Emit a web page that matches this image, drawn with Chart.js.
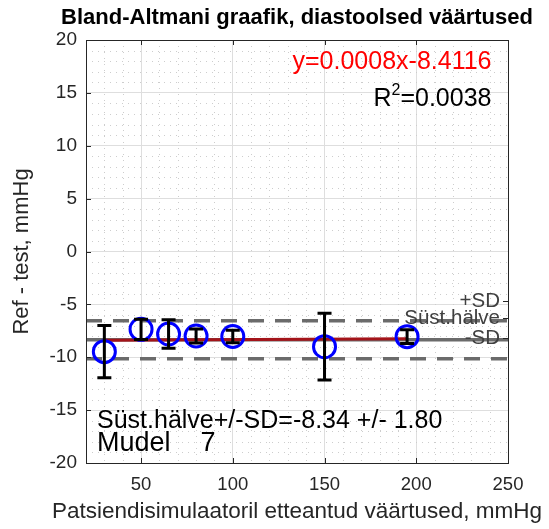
<!DOCTYPE html>
<html>
<head>
<meta charset="utf-8">
<script src="https://cdn.jsdelivr.net/npm/chart.js@4/dist/chart.umd.min.js"></script>
<style>
  html, body { margin: 0; padding: 0; background: #fff; }
</style>
</head>
<body>
<canvas id="myChart" width="549" height="529"></canvas>
<script>
// measured points: setpoint (mmHg), mean ref-test difference and its SD
const setpoints = [30, 50, 65, 80, 100, 150, 195];
const meanDiffs = [-9.47, -7.36, -7.8, -7.99, -8.04, -9.0, -8.05];
const sdDiffs = [2.47, 0.95, 1.35, 0.66, 0.6, 3.15, 0.66];

// bias line and limits
const biasValue = -8.34;
const sdValue = 1.8;
const limitX = [20, 250];

// regression line endpoints
const fitX = [30, 195];
const fitY = [-8.39, -8.26];

const xTicks = [50, 100, 150, 200, 250];
const yTicks = [20, 15, 10, 5, 0, -5, -10, -15, -20];

const sideLabels = ["+SD", "Süst.hälve", "-SD"];
const sideLabelValues = [-4.7, -6.3, -8.2];

const titleText = "Bland-Altmani graafik, diastoolsed väärtused";
const xTitleText = "Patsiendisimulaatoril etteantud väärtused, mmHg";
const eqText = "y=0.0008x-8.4116";
const r2Text = "=0.0038";
const summaryText = "Süst.hälve+/-SD=-8.34 +/- 1.80";
const modelText = "Mudel    7";

const FONT = "'Liberation Sans', Arial, Helvetica, sans-serif";
const AXIS_COLOR = "#262626";

const ctx = document.querySelector("#myChart");

const pts = setpoints.map((x, i) => ({ x: x, y: meanDiffs[i] }));
const lineOf = (xs, y) => xs.map((x) => ({ x: x, y: y }));

const extras = {
  id: "extras",
  beforeDatasetsDraw(chart) {
    const { ctx, chartArea: a, scales } = chart;
    const xs = scales.x, ys = scales.y;
    ctx.save();
    ctx.strokeStyle = "#cdcdcd";
    ctx.lineWidth = 1;
    ctx.setLineDash([1, 5]);
    for (let v = 20; v <= 250; v += 10) {
      if (v % 50 === 0) continue;
      const px = Math.round(xs.getPixelForValue(v)) + 0.5;
      ctx.beginPath();
      ctx.moveTo(px, a.top);
      ctx.lineTo(px, a.bottom);
      ctx.stroke();
    }
    for (let v = -20; v <= 20; v += 1) {
      if (v % 5 === 0) continue;
      const py = Math.round(ys.getPixelForValue(v)) + 0.5;
      ctx.beginPath();
      ctx.moveTo(a.left, py);
      ctx.lineTo(a.right, py);
      ctx.stroke();
    }
    ctx.restore();
  },
  afterDatasetsDraw(chart) {
    const { ctx, chartArea: a, scales } = chart;
    const xs = scales.x, ys = scales.y;
    ctx.save();

    // error bars
    ctx.strokeStyle = "#000";
    ctx.lineWidth = 3;
    ctx.setLineDash([]);
    setpoints.forEach((x, i) => {
      const px = xs.getPixelForValue(x);
      const top = ys.getPixelForValue(meanDiffs[i] + sdDiffs[i]);
      const bot = ys.getPixelForValue(meanDiffs[i] - sdDiffs[i]);
      ctx.beginPath();
      ctx.moveTo(px, top);
      ctx.lineTo(px, bot);
      ctx.moveTo(px - 7, top);
      ctx.lineTo(px + 7, top);
      ctx.moveTo(px - 7, bot);
      ctx.lineTo(px + 7, bot);
      ctx.stroke();
    });

    // box and inward ticks
    ctx.strokeStyle = AXIS_COLOR;
    ctx.lineWidth = 1;
    ctx.strokeRect(Math.round(a.left) + 0.5, Math.round(a.top) + 0.5,
      Math.round(a.right - a.left), Math.round(a.bottom - a.top));
    ctx.beginPath();
    xTicks.forEach((v) => {
      const px = Math.round(xs.getPixelForValue(v)) + 0.5;
      ctx.moveTo(px, a.bottom);
      ctx.lineTo(px, a.bottom - 5);
      ctx.moveTo(px, a.top);
      ctx.lineTo(px, a.top + 5);
    });
    yTicks.forEach((v) => {
      const py = Math.round(ys.getPixelForValue(v)) + 0.5;
      ctx.moveTo(a.left, py);
      ctx.lineTo(a.left + 5, py);
    });
    sideLabelValues.forEach((v) => {
      const py = Math.round(ys.getPixelForValue(v)) + 0.5;
      ctx.moveTo(a.right, py);
      ctx.lineTo(a.right - 5, py);
    });
    ctx.stroke();

    // right side labels
    ctx.fillStyle = "#404040";
    ctx.font = "20.5px " + FONT;
    ctx.textAlign = "right";
    ctx.textBaseline = "middle";
    sideLabels.forEach((t, i) => {
      ctx.fillText(t, a.right - 8, ys.getPixelForValue(sideLabelValues[i]));
    });

    // equation and R^2
    ctx.font = "25px " + FONT;
    ctx.fillStyle = "#ff0000";
    ctx.fillText(eqText, xs.getPixelForValue(241), ys.getPixelForValue(17.9));
    ctx.fillStyle = "#000";
    const rx = xs.getPixelForValue(241);
    const ry = ys.getPixelForValue(14.4);
    ctx.fillText(r2Text, rx, ry);
    const w = ctx.measureText(r2Text).width;
    ctx.font = "16px " + FONT;
    const w2 = ctx.measureText("2").width;
    ctx.fillText("2", rx - w, ry - 9);
    ctx.font = "25px " + FONT;
    ctx.fillText("R", rx - w - w2, ry);

    // summary text
    ctx.textAlign = "left";
    ctx.fillText(summaryText, xs.getPixelForValue(26), ys.getPixelForValue(-16.05));
    ctx.font = "27px " + FONT;
    ctx.fillText(modelText, xs.getPixelForValue(26), ys.getPixelForValue(-18.15));

    // title and x-axis title, centred on the plot box (they overhang it)
    const cx = (a.left + a.right) / 2;
    ctx.textAlign = "center";
    ctx.fillStyle = "#000";
    ctx.font = "bold 22px " + FONT;
    ctx.fillText(titleText, cx, 18);
    ctx.fillStyle = AXIS_COLOR;
    ctx.font = "22.5px " + FONT;
    ctx.fillText(xTitleText, cx, 512);

    ctx.restore();
  },
};

const data = {
  datasets: [
    {
      label: "Mõõtmised",
      data: pts,
      showLine: false,
      pointStyle: "circle",
      pointRadius: 11,
      pointBorderWidth: 3,
      pointBorderColor: "#0000ff",
      pointBackgroundColor: "rgba(0,0,0,0)",
    },
    {
      label: "Regressioon",
      data: fitX.map((x, i) => ({ x: x, y: fitY[i] })),
      showLine: true,
      borderColor: "#a3141a",
      borderWidth: 3,
      pointRadius: 0,
    },
    {
      label: "+SD",
      data: lineOf(limitX, biasValue + sdValue),
      showLine: true,
      borderColor: "#6b6b6b",
      borderWidth: 3.5,
      borderDash: [16, 11],
      pointRadius: 0,
    },
    {
      label: "-SD",
      data: lineOf(limitX, biasValue - sdValue),
      showLine: true,
      borderColor: "#6b6b6b",
      borderWidth: 3.5,
      borderDash: [16, 11],
      pointRadius: 0,
    },
    {
      label: "Süst.hälve",
      data: lineOf(limitX, biasValue),
      showLine: true,
      borderColor: "#6b6b6b",
      borderWidth: 3.5,
      pointRadius: 0,
    },
  ],
};

const config = {
  type: "scatter",
  data,
  options: {
    responsive: false,
    animation: false,
    layout: { padding: { left: 0, right: 41, top: 40, bottom: 0 } },
    plugins: {
      legend: { display: false },
      tooltip: { enabled: false },
      title: { display: false },
    },
    scales: {
      x: {
        type: "linear",
        min: 20,
        max: 250,
        afterBuildTicks: (scale) => {
          scale.ticks = xTicks.map((v) => ({ value: v }));
        },
        afterFit: (scale) => {
          scale.height = 66;
        },
        grid: { color: "#dedede", lineWidth: 1, drawTicks: false },
        border: { display: false },
        ticks: {
          color: AXIS_COLOR,
          padding: 11,
          font: { family: FONT, size: 18.5 },
          maxRotation: 0,
        },
      },
      y: {
        type: "linear",
        min: -20,
        max: 20,
        afterBuildTicks: (scale) => {
          scale.ticks = yTicks.map((v) => ({ value: v }));
        },
        afterFit: (scale) => {
          scale.width = 86;
        },
        grid: { color: "#dedede", lineWidth: 1, drawTicks: false },
        border: { display: false },
        ticks: {
          color: AXIS_COLOR,
          padding: 9,
          font: { family: FONT, size: 19 },
        },
        title: {
          display: true,
          text: "Ref - test, mmHg",
          color: AXIS_COLOR,
          font: { family: FONT, size: 22 },
          padding: 9,
        },
      },
    },
  },
  plugins: [extras],
};

let myChart = new Chart(ctx, config);
</script>
</body>
</html>
